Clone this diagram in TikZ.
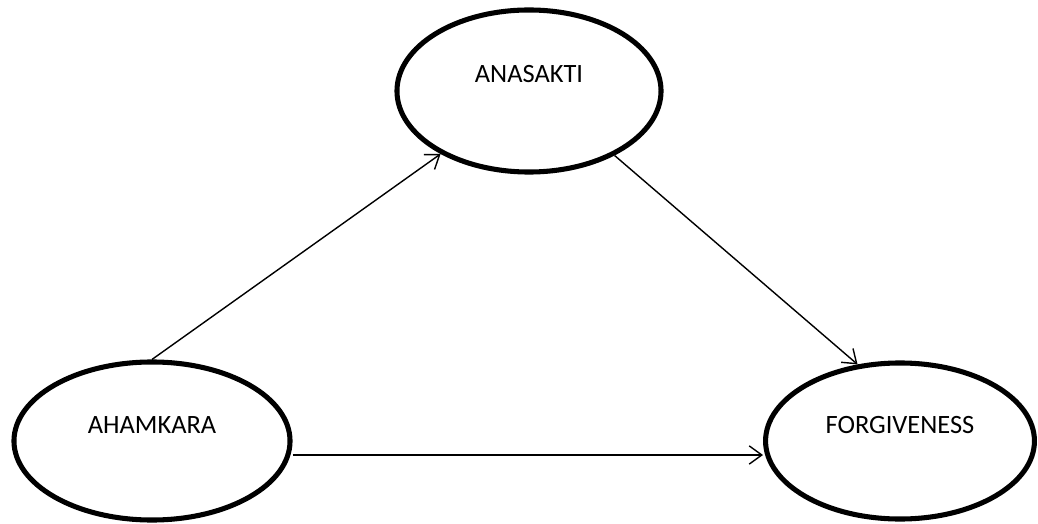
\documentclass[tikz,border=0pt]{standalone}
\usepackage{fontspec}
\setmainfont{Carlito}
\usepackage{tikz}
\usetikzlibrary{positioning}
\usetikzlibrary{shapes.geometric}
\usetikzlibrary{arrows.meta}
\tikzset{bulle/.style={shape=ellipse,draw,line width=3.6pt,font=\fontsize{18.8pt}{21pt}\selectfont,text height=0.4cm,text depth=0.8cm}}
\tikzset{fleche/.style={->,>={Straight Barb[length=9pt,width=13pt]},line width=1pt}}

\begin{document}
\begin{tikzpicture}[x=0.025cm,y=-0.025cm]
\useasboundingbox (0,0) rectangle (1038,524);
\node(An) at (529,91) [bulle,minimum width=6.6cm,minimum height=4.05cm] {ANASAKTI};
\node(Ah) at (152,441) [bulle,minimum width=6.9cm,minimum height=3.95cm] {AHAMKARA};
\node(Fo) at (900,441) [bulle,minimum width=6.72cm,minimum height=3.9cm] {FORGIVENESS};

\draw[fleche] (Ah.north) -- (An);
\draw[fleche] (An.-37) -- (Fo.119);
\draw[fleche] ([yshift=-0.35cm]Ah.east) -- ([yshift=-0.35cm]Fo.west);
\end{tikzpicture}
\end{document}
